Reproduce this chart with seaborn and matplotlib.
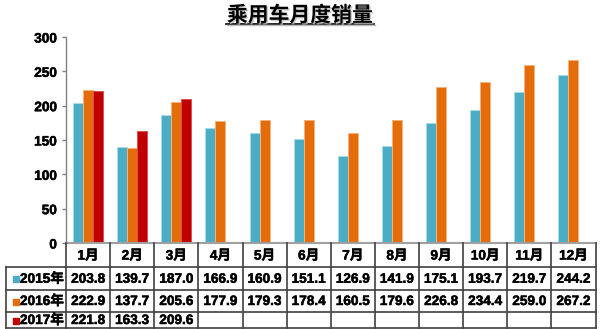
import matplotlib
matplotlib.use("Agg")
import matplotlib.pyplot as plt
import matplotlib.patheffects as pe
from matplotlib.lines import Line2D
from matplotlib.patches import Rectangle
import seaborn as sns
import pandas as pd
import numpy as np

# Monthly passenger-car sales (10k units)
months = ["1月", "2月", "3月", "4月", "5月", "6月", "7月", "8月", "9月", "10月", "11月", "12月"]
years = ["2015年", "2016年", "2017年"]
sales_2015 = [203.8, 139.7, 187.0, 166.9, 160.9, 151.1, 126.9, 141.9, 175.1, 193.7, 219.7, 244.2]
sales_2016 = [222.9, 137.7, 205.6, 177.9, 179.3, 178.4, 160.5, 179.6, 226.8, 234.4, 259.0, 267.2]
sales_2017 = [221.8, 163.3, 209.6]
colors = ["#4BACC6", "#E46C0A", "#C00000"]
edge_colors = ["#A9DCEA", "#F6B27A", "#E05050"]
yticks = [0, 50, 100, 150, 200, 250, 300]

series = [sales_2015, sales_2016, sales_2017]
rows = []
for yr, vals in zip(years, series):
    for m, v in zip(months, vals):
        rows.append({"month": m, "year": yr, "sales": v})
df = pd.DataFrame(rows)

fonts = ["Liberation Sans", "Noto Sans CJK SC", "DejaVu Sans"]
plt.rcParams["font.family"] = fonts

W, H = 600, 329
fig = plt.figure(figsize=(W / 100, H / 100), dpi=100)

def fx(x):
    return x / W

def fy(y):
    return 1 - y / H

ax_left, ax_right, ax_top, ax_bot = 66, 595.5, 37, 243
ax = fig.add_axes([fx(ax_left), fy(ax_bot), fx(ax_right - ax_left), (ax_bot - ax_top) / H])

sns.barplot(data=df, x="month", y="sales", hue="year", order=months, hue_order=years,
            palette=colors, width=0.68, ax=ax, legend=False, saturation=1)
for i, cont in enumerate(ax.containers):
    for bar in cont:
        bar.set_edgecolor(edge_colors[i])
        bar.set_linewidth(0.7)

ax.set_xlim(-0.5, 11.5)
ax.set_ylim(0, 300)
ax.set_yticks(yticks)
ax.set_yticklabels([str(t) for t in yticks], fontsize=9.8, fontweight="bold")
ax.set_xticks([])
ax.set_xlabel("")
ax.set_ylabel("")
for s in ["top", "right"]:
    ax.spines[s].set_visible(False)
ax.spines["left"].set_color("#808080")
ax.spines["left"].set_linewidth(1.0)
ax.spines["bottom"].set_color("#A0A0A0")
ax.spines["bottom"].set_linewidth(1.5)
ax.tick_params(axis="y", length=3, width=1.0, color="#808080", pad=3.6, labelcolor="black")
ax.patch.set_alpha(0)

# Bold text gets a hairline stroke to thicken it slightly
thick = [pe.withStroke(linewidth=0.35, foreground="black")]
for lbl in ax.get_yticklabels():
    lbl.set_path_effects(thick)

# Title with underline
title = fig.text(fx(300), fy(15), "乘用车月度销量", ha="center", va="center",
                 fontsize=15, fontweight="bold", family=["Noto Sans CJK SC"],
                 path_effects=[pe.withSimplePatchShadow(offset=(1, -1), shadow_rgbFace="#BBBBBB", alpha=0.8)])
fig.add_artist(Line2D([fx(226), fx(374)], [fy(24), fy(24)], color="black", lw=1.2))
fig.add_artist(Line2D([fx(227), fx(375)], [fy(25.3), fy(25.3)], color="#BBBBBB", lw=1.0))

# Data table below the axes
col_w = (ax_right - ax_left) / 12
col_x = [ax_left + i * col_w for i in range(13)]
row_y = [243, 267, 289.5, 311.5, 327.5]
label_left = 5.5
line_kw = dict(color="#404040", lw=1.2)

for y in row_y[1:]:
    fig.add_artist(Line2D([fx(label_left), fx(ax_right)], [fy(y), fy(y)], **line_kw))
fig.add_artist(Line2D([fx(label_left), fx(label_left)], [fy(row_y[1]), fy(row_y[-1])], **line_kw))
for x in col_x:
    fig.add_artist(Line2D([fx(x), fx(x)], [fy(row_y[0]), fy(row_y[-1])], **line_kw))

txt_kw = dict(ha="center", va="center", fontsize=9.8, fontweight="bold", path_effects=thick)
for i, m in enumerate(months):
    cx = (col_x[i] + col_x[i + 1]) / 2
    fig.text(fx(cx), fy((row_y[0] + row_y[1]) / 2 + 0.5), m, **txt_kw)

for r, (yr, vals, c) in enumerate(zip(years, series, colors)):
    cy = (row_y[r + 1] + row_y[r + 2]) / 2 + 0.5
    fig.add_artist(Rectangle((fx(12.5), fy(cy + 3.5)), fx(6), 6 / H, color=c,
                             transform=fig.transFigure))
    fig.text(fx(20), fy(cy), yr, ha="left", va="center", fontsize=9.8, fontweight="bold",
             path_effects=thick)
    for i, v in enumerate(vals):
        cx = (col_x[i] + col_x[i + 1]) / 2
        fig.text(fx(cx), fy(cy), f"{v:.1f}", **txt_kw)

fig.savefig("out.png", dpi=100)
